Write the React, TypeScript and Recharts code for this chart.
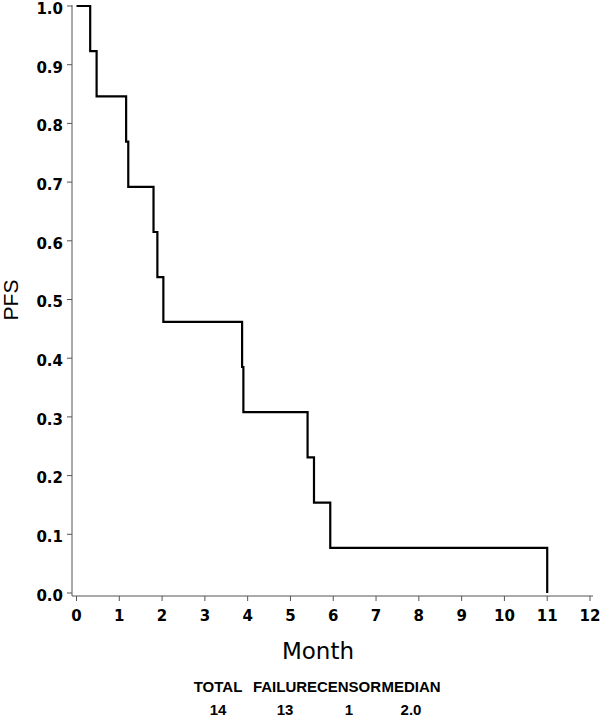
import { LineChart, Line, XAxis, YAxis } from "recharts";

// Kaplan-Meier estimate (PFS); steps at each failure time.
const months = [0, 0.32, 0.47, 1.16, 1.21, 1.8, 1.89, 2.03, 3.87, 3.9, 5.4, 5.55, 5.93, 11.0];
const pfs = [1.0, 0.923, 0.846, 0.769, 0.692, 0.615, 0.538, 0.462, 0.385, 0.308, 0.231, 0.154, 0.077, 0.0];

const xTicks = [0, 1, 2, 3, 4, 5, 6, 7, 8, 9, 10, 11, 12];
const yTicks = [0, 0.1, 0.2, 0.3, 0.4, 0.5, 0.6, 0.7, 0.8, 0.9, 1.0];

const summaryHeaders = ["TOTAL", "FAILURE", "CENSOR", "MEDIAN"];
const summaryValues = ["14", "13", "1", "2.0"];

const data = months.map((m, i) => ({ month: m, pfs: pfs[i] }));

const FONT = "'Liberation Sans', Arial, Helvetica, sans-serif";
const WIDE = "'DejaVu Sans', Verdana, sans-serif";
const FRAME = "#555";
const TICK_STYLE = { fontFamily: WIDE, fontSize: 15, fontWeight: 700, fill: "#000" };

// column centres for the summary table under the plot
const colX = [218, 285, 349, 411];

export default function App() {
  return (
    <div style={{ position: "absolute", left: 0, top: 0, width: 600, height: 718, background: "#fff" }}>
      <LineChart
        width={600}
        height={718}
        data={data}
        margin={{ top: 5, right: 7, bottom: 82, left: 0 }}
      >
        <XAxis
          dataKey="month"
          type="number"
          domain={[-0.105, 12.07]}
          allowDataOverflow
          ticks={xTicks}
          interval={0}
          height={40}
          tick={TICK_STYLE}
          tickSize={5}
          tickMargin={9}
          stroke={FRAME}
          tickLine={{ stroke: FRAME }}
        />
        <XAxis xAxisId="top" orientation="top" dataKey="month" type="number" domain={[-0.105, 12.07]} height={0} tick={false} tickLine={false} stroke={FRAME} />
        <YAxis
          type="number"
          domain={[-0.0051, 1.0017]}
          allowDataOverflow
          ticks={yTicks}
          interval={0}
          width={72}
          tick={{ ...TICK_STYLE, dy: 2.5 }}
          tickFormatter={(v: number) => v.toFixed(1)}
          tickSize={5}
          tickMargin={4}
          stroke={FRAME}
          tickLine={{ stroke: FRAME }}
        />
        <YAxis yAxisId="right" orientation="right" domain={[0, 1]} width={0} tick={false} tickLine={false} stroke={FRAME} />
        <Line
          type="stepAfter"
          dataKey="pfs"
          stroke="#000"
          strokeWidth={2.2}
          dot={false}
          isAnimationActive={false}
        />
      </LineChart>
      <svg
        width={600}
        height={718}
        style={{ position: "absolute", left: 0, top: 0, pointerEvents: "none" }}
        fontFamily={FONT}
      >
        <text x={18} y={300} fontSize={21} textAnchor="middle" transform="rotate(-90 18 300)">
          PFS
        </text>
        <text x={318} y={659} fontSize={23} fontFamily={WIDE} textAnchor="middle">
          Month
        </text>
        {summaryHeaders.map((h, i) => (
          <text key={h} x={colX[i]} y={692} fontSize={15} fontWeight={700} textAnchor="middle">
            {h}
          </text>
        ))}
        {summaryValues.map((v, i) => (
          <text key={i} x={colX[i]} y={715} fontSize={15} fontWeight={700} textAnchor="middle">
            {v}
          </text>
        ))}
      </svg>
    </div>
  );
}
